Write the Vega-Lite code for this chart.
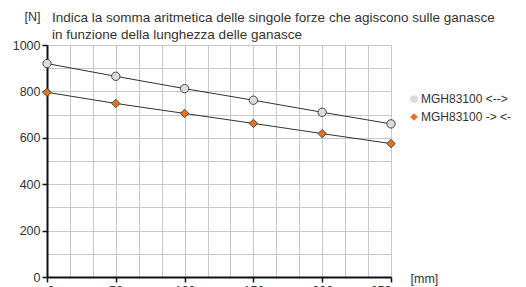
{
  "$schema": "https://vega.github.io/schema/vega-lite/v6.json",
  "width": 344,
  "height": 232,
  "autosize": "none",
  "padding": {"left": 47, "top": 45, "right": 135, "bottom": 10},
  "background": "white",
  "config": {
    "font": "Liberation Sans",
    "view": {"stroke": null},
    "axis": {"labelFont": "Liberation Sans", "titleFont": "Liberation Sans", "labelColor": "#333", "titleColor": "#333", "labelFontSize": 12.5, "titleFontSize": 12.5, "titleFontWeight": "normal"}
  },
  "title": {
    "text": ["Indica la somma aritmetica delle singole forze che agiscono sulle ganasce", "in funzione della lunghezza delle ganasce"],
    "anchor": "start",
    "frame": "group",
    "dx": 5,
    "dy": 35,
    "offset": 4,
    "fontSize": 13.5,
    "fontWeight": "normal",
    "color": "#333",
    "lineHeight": 17,
    "font": "Liberation Sans"
  },
  "data": {
    "values": [
      {"x": 0, "y": 920, "s": "MGH83100 <-->"},
      {"x": 50, "y": 865, "s": "MGH83100 <-->"},
      {"x": 100, "y": 812, "s": "MGH83100 <-->"},
      {"x": 150, "y": 762, "s": "MGH83100 <-->"},
      {"x": 200, "y": 710, "s": "MGH83100 <-->"},
      {"x": 250, "y": 660, "s": "MGH83100 <-->"},
      {"x": 0, "y": 796, "s": "MGH83100 -> <-"},
      {"x": 50, "y": 748, "s": "MGH83100 -> <-"},
      {"x": 100, "y": 705, "s": "MGH83100 -> <-"},
      {"x": 150, "y": 662, "s": "MGH83100 -> <-"},
      {"x": 200, "y": 618, "s": "MGH83100 -> <-"},
      {"x": 250, "y": 575, "s": "MGH83100 -> <-"}
    ]
  },
  "resolve": {"axis": {"x": "independent", "y": "independent"}},
  "layer": [
    {
      "mark": {"type": "point", "opacity": 0},
      "encoding": {
        "x": {"field": "x", "type": "quantitative", "scale": {"domain": [0, 250], "nice": false},
          "axis": {"orient": "bottom", "values": [0, 16.6667, 33.3333, 50, 66.6667, 83.3333, 100, 116.6667, 133.3333, 150, 166.6667, 183.3333, 200, 216.6667, 233.3333, 250], "grid": true, "gridColor": "#c8c8c8", "gridWidth": 1, "labels": false, "ticks": false, "domain": false, "title": null}},
        "y": {"field": "y", "type": "quantitative", "scale": {"domain": [0, 1000], "nice": false},
          "axis": {"orient": "left", "values": [0, 100, 200, 300, 400, 500, 600, 700, 800, 900, 1000], "grid": true, "gridColor": "#c8c8c8", "gridWidth": 1, "labels": false, "ticks": false, "domain": false, "title": null}}
      }
    },
    {
      "mark": {"type": "line", "color": "#333", "strokeWidth": 1},
      "encoding": {
        "x": {"field": "x", "type": "quantitative",
          "axis": {"orient": "bottom", "values": [0, 50, 100, 150, 200, 250], "format": "d", "grid": false, "domainColor": "#111", "domainWidth": 2, "tickColor": "#111", "tickWidth": 1.5, "tickSize": 5, "labelPadding": 2, "title": "[mm]", "titleAngle": 0, "titleX": 363, "titleY": 1, "titleAlign": "left", "titleBaseline": "middle"}},
        "y": {"field": "y", "type": "quantitative",
          "axis": {"orient": "left", "values": [0, 200, 400, 600, 800, 1000], "format": "d", "grid": false, "domainColor": "#111", "domainWidth": 2, "tickColor": "#111", "tickWidth": 1.5, "tickSize": 5, "labelPadding": 2, "title": "[N]", "titleAngle": 0, "titleX": -23, "titleY": -29, "titleAlign": "left", "titleBaseline": "middle"}},
        "detail": {"field": "s"}
      }
    },
    {
      "mark": {"type": "point", "filled": true, "stroke": "#444", "strokeWidth": 1, "opacity": 1, "size": 70},
      "encoding": {
        "x": {"field": "x", "type": "quantitative", "axis": null},
        "y": {"field": "y", "type": "quantitative", "axis": null},
        "shape": {"field": "s", "type": "nominal", "scale": {"domain": ["MGH83100 <-->", "MGH83100 -> <-"], "range": ["circle", "diamond"]},
          "legend": {"title": null, "orient": "none", "legendX": 361, "legendY": 48, "labelFontSize": 12, "labelColor": "#333", "labelFont": "Liberation Sans", "symbolSize": 60, "symbolStrokeColor": "#444", "symbolStrokeWidth": 1, "rowPadding": 6, "labelOffset": 1}},
        "fill": {"field": "s", "type": "nominal", "scale": {"domain": ["MGH83100 <-->", "MGH83100 -> <-"], "range": ["#dcdcdc", "#e8731c"]}}
      }
    }
  ]
}
